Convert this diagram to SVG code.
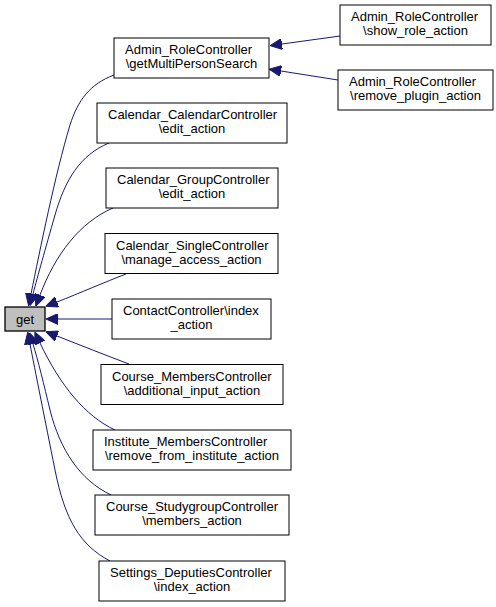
<svg xmlns="http://www.w3.org/2000/svg" width="496" height="607" viewBox="0 0 496 607">
<style>
.n rect{fill:#fff;stroke:#000;stroke-width:1}
.g rect{fill:#bfbfbf;stroke:#000;stroke-width:1.3}
text{font-family:"Liberation Sans",Arial,Helvetica,sans-serif;font-size:13px;fill:#000}
.s{text-anchor:start}
.m{text-anchor:middle}
#edges path{fill:none;stroke:#191970;stroke-width:1}
</style>
<defs>
<marker id="ah" viewBox="0 0 12 11" refX="0" refY="5.5" markerWidth="12" markerHeight="11" markerUnits="userSpaceOnUse" orient="auto">
<path d="M0,0 L12,5.5 L0,11 z" fill="#191970" stroke="#191970" stroke-width="1"/>
</marker>
</defs>
<rect width="496" height="607" fill="#fff"/>
<g id="edges">
<path d="M114,75 C90,84 78,100 70,125 C55,175 40,250 31,294" marker-end="url(#ah)"/>
<path d="M109,143 C80,155 65,180 55,215 C45,250 38,275 33,294" marker-end="url(#ah)"/>
<path d="M113,208 C80,222 55,255 40,295" marker-end="url(#ah)"/>
<path d="M126,274 C105,282 80,293 57,302" marker-end="url(#ah)"/>
<path d="M112,319 L58,319" marker-end="url(#ah)"/>
<path d="M129,364 C105,355 80,345 57,336" marker-end="url(#ah)"/>
<path d="M115,430 C85,416 60,385 40,343" marker-end="url(#ah)"/>
<path d="M111,495 C80,480 60,450 50,410 C44,385 38,360 33,344" marker-end="url(#ah)"/>
<path d="M110,561 C80,545 65,520 55,470 C45,420 35,370 30,344" marker-end="url(#ah)"/>
<path d="M340,36 L282,44" marker-end="url(#ah)"/>
<path d="M338,80 L281,71" marker-end="url(#ah)"/>
</g>
<g id="get" class="g">
<rect x="5" y="307" width="40" height="24"/>
<text class="m" x="25" y="323.5">get</text>
</g>
<g id="admin_getMultiPersonSearch" class="n">
<rect x="114" y="38" width="155" height="40"/>
<text class="s" x="125" y="54">Admin_RoleController</text>
<text class="m" x="191.5" y="68">\getMultiPersonSearch</text>
</g>
<g id="admin_show_role_action" class="n">
<rect x="340" y="5" width="151" height="40"/>
<text class="s" x="351" y="21">Admin_RoleController</text>
<text class="m" x="415.5" y="35">\show_role_action</text>
</g>
<g id="admin_remove_plugin_action" class="n">
<rect x="338" y="70" width="155" height="40"/>
<text class="s" x="349" y="86">Admin_RoleController</text>
<text class="m" x="415.5" y="100">\remove_plugin_action</text>
</g>
<g id="calendar_edit_action" class="n">
<rect x="97" y="103" width="190" height="40"/>
<text class="s" x="108" y="119">Calendar_CalendarController</text>
<text class="m" x="192" y="133">\edit_action</text>
</g>
<g id="calendar_group_edit_action" class="n">
<rect x="106" y="168" width="172" height="40"/>
<text class="s" x="117" y="184">Calendar_GroupController</text>
<text class="m" x="192" y="198">\edit_action</text>
</g>
<g id="calendar_single_manage_access_action" class="n">
<rect x="105" y="233.5" width="173" height="40"/>
<text class="s" x="116" y="249.5">Calendar_SingleController</text>
<text class="m" x="191.5" y="263.5">\manage_access_action</text>
</g>
<g id="contact_index_action" class="n">
<rect x="112" y="299" width="159" height="40"/>
<text class="s" x="123" y="315">ContactController\index</text>
<text class="m" x="191.5" y="329">_action</text>
</g>
<g id="course_members_additional_input_action" class="n">
<rect x="101" y="364.5" width="182" height="40"/>
<text class="s" x="112" y="380.5">Course_MembersController</text>
<text class="m" x="192" y="394.5">\additional_input_action</text>
</g>
<g id="institute_members_remove_from_institute_action" class="n">
<rect x="93" y="430" width="198" height="40"/>
<text class="s" x="104" y="446">Institute_MembersController</text>
<text class="m" x="192" y="460">\remove_from_institute_action</text>
</g>
<g id="course_studygroup_members_action" class="n">
<rect x="95" y="495" width="194" height="40"/>
<text class="s" x="106" y="511">Course_StudygroupController</text>
<text class="m" x="192" y="525">\members_action</text>
</g>
<g id="settings_deputies_index_action" class="n">
<rect x="99" y="561" width="186" height="40"/>
<text class="s" x="110" y="577">Settings_DeputiesController</text>
<text class="m" x="192" y="591">\index_action</text>
</g>
</svg>
